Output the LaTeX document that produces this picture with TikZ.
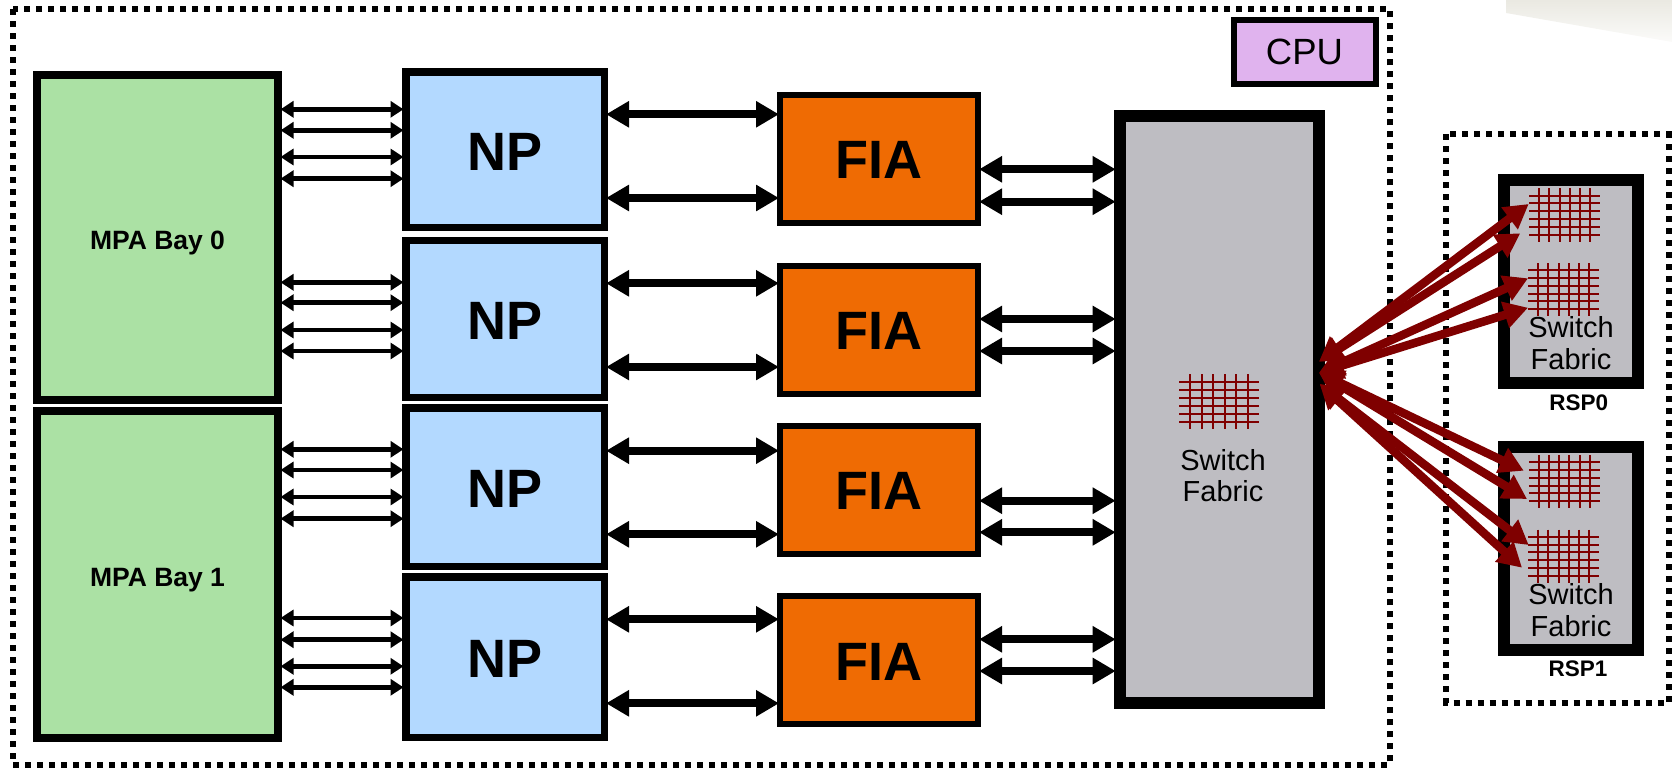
\documentclass[tikz,border=0pt]{standalone}
\usepackage{fontspec}
\setmainfont{Liberation Sans}
\usetikzlibrary{arrows.meta}
\definecolor{mpagreen}{HTML}{ABE1A4}
\definecolor{npblue}{HTML}{B3D9FF}
\definecolor{fiaorange}{HTML}{EF6B03}
\definecolor{fabricgray}{HTML}{BEBDC2}
\definecolor{cpupurple}{HTML}{E0B3EE}
\definecolor{linkred}{HTML}{7F0000}
\definecolor{smudge}{HTML}{D6D4C6}
\newcommand{\pxfont}[1]{\fontsize{#1}{#1}\selectfont}
\tikzset{
  block/.style={draw=black, inner sep=0pt, align=center},
  mpa/.style={block, fill=mpagreen, line width=8pt, minimum width=241pt, text height=29pt, font=\pxfont{26.5}\bfseries},
  np/.style={block, fill=npblue, line width=7.5pt, minimum width=198.5pt, text height=41.5pt, font=\pxfont{54}\bfseries},
  fia/.style={block, fill=fiaorange, line width=6pt, minimum width=198pt, minimum height=128pt, text height=40pt, font=\pxfont{54}\bfseries},
  fabric/.style={block, fill=fabricgray, line width=12pt},
  rsp/.style={fabric, minimum width=134.6pt, minimum height=202.6pt},
  zone/.style={draw=black, line width=6pt, dash pattern=on 6pt off 6pt},
  caption/.style={inner sep=0pt, font=\pxfont{22.5}\bfseries},
  fabrictext/.style={inner sep=0pt, font=\pxfont{29}},
  smalllink/.style={line width=4.5pt, shorten <=-1.5pt, shorten >=-1.5pt, {Triangle[length=13pt,width=16pt]}-{Triangle[length=13pt,width=16pt]}},
  biglink/.style={line width=8pt, shorten <=-2pt, shorten >=-2pt, {Triangle[length=23pt,width=25pt]}-{Triangle[length=23pt,width=25pt]}},
  redlink/.style={linkred, line width=8.5pt, {Triangle[length=24pt,width=26pt]}-{Triangle[length=24pt,width=26pt]}},
  pics/swgrid/.style={code={
    \foreach \gx in {-2.5,-1.5,-0.5,0.5,1.5,2.5}
      \draw[linkred, line width=2pt] (\gx*10.2,-26.7) -- (\gx*10.2,26.7);
    \foreach \gy in {-2.5,-1.5,-0.5,0.5,1.5,2.5}
      \draw[linkred, line width=2pt] (-35.5,\gy*7.8) -- (35.5,\gy*7.8);
  }}
}
\begin{document}
\begin{tikzpicture}[x=1pt, y=-1pt]
\useasboundingbox (0,0) rectangle (1672,768);

% Corner smudge
\begin{scope}
\clip (1506,0) -- (1672,0) -- (1672,42) -- (1506,13) -- cycle;
\shade[top color=smudge, bottom color=white, rotate around={-10:(1506,13)}] (1450,-40) rectangle (1730,13);
\end{scope}

% Dotted zones
\draw[zone] (12.7,9.3) rectangle (1390,764.7);
\draw[zone] (1446,134.3) rectangle (1668.7,702.7);

% CPU tag
\node[block, fill=cpupurple, line width=6pt, minimum width=142pt, minimum height=64pt, font=\pxfont{36.5}] (cpu) at (1304.5,52.3) {CPU};

% MPA bays
\node[mpa, minimum height=325pt] (mpa0) at (157.5,237.5) {MPA Bay 0};
\node[mpa, minimum height=327pt] (mpa1) at (157.5,574.5) {MPA Bay 1};

% Network processors
\node[np, minimum height=155.5pt] (np1) at (505,149.5) {NP};
\node[np, minimum height=156.8pt] (np2) at (505,318.9) {NP};
\node[np, minimum height=158.5pt] (np3) at (505,487) {NP};
\node[np, minimum height=160.5pt] (np4) at (505,657) {NP};

% Fabric interfaces
\node[fia] (fia1) at (879,158.8) {FIA};
\node[fia] (fia2) at (879,329.7) {FIA};
\node[fia] (fia3) at (879,489.7) {FIA};
\node[fia] (fia4) at (879,660.3) {FIA};

% Midplane fabric and route switch processors
\node[fabric, minimum width=199pt, minimum height=587pt] (fabric) at (1219.2,409.5) {};
\node[fabrictext, align=center] (fabriclabel) at (1223,475.5) {Switch\\[1.7pt]Fabric};
\node[rsp] (rsp0) at (1571,281.6) {};
\node[rsp] (rsp1) at (1571,548.5) {};
\node[fabrictext, align=center] (rsp0label) at (1571,343.4) {Switch\\[3pt]Fabric};
\node[fabrictext, align=center] (rsp1label) at (1571,610) {Switch\\[3pt]Fabric};
\node[caption] (rsp0name) at (1578.7,403) {RSP0};
\node[caption] (rsp1name) at (1578,669) {RSP1};

% Crossbar grids
\pic[xscale=1.127, yscale=1.03] at (1219,401.8) {swgrid};
\pic at (1564.7,215) {swgrid};
\pic at (1563.7,289.7) {swgrid};
\pic at (1564.3,481.7) {swgrid};
\pic at (1563.7,556.3) {swgrid};

% MPA to NP links
\draw[smalllink] (mpa0.east |- 0,109.3) -- (np1.west |- 0,109.3);
\draw[smalllink] (mpa0.east |- 0,130.3) -- (np1.west |- 0,130.3);
\draw[smalllink] (mpa0.east |- 0,157) -- (np1.west |- 0,157);
\draw[smalllink] (mpa0.east |- 0,178.7) -- (np1.west |- 0,178.7);
\draw[smalllink] (mpa0.east |- 0,282.3) -- (np2.west |- 0,282.3);
\draw[smalllink] (mpa0.east |- 0,302.7) -- (np2.west |- 0,302.7);
\draw[smalllink] (mpa0.east |- 0,330) -- (np2.west |- 0,330);
\draw[smalllink] (mpa0.east |- 0,351) -- (np2.west |- 0,351);
\draw[smalllink] (mpa1.east |- 0,449.3) -- (np3.west |- 0,449.3);
\draw[smalllink] (mpa1.east |- 0,470) -- (np3.west |- 0,470);
\draw[smalllink] (mpa1.east |- 0,497) -- (np3.west |- 0,497);
\draw[smalllink] (mpa1.east |- 0,518.7) -- (np3.west |- 0,518.7);
\draw[smalllink] (mpa1.east |- 0,618) -- (np4.west |- 0,618);
\draw[smalllink] (mpa1.east |- 0,639.7) -- (np4.west |- 0,639.7);
\draw[smalllink] (mpa1.east |- 0,666.3) -- (np4.west |- 0,666.3);
\draw[smalllink] (mpa1.east |- 0,687.3) -- (np4.west |- 0,687.3);

% NP to FIA links
\draw[biglink] (np1.east |- 0,114.3) -- (fia1.west |- 0,114.3);
\draw[biglink] (np1.east |- 0,198) -- (fia1.west |- 0,198);
\draw[biglink] (np2.east |- 0,283.3) -- (fia2.west |- 0,283.3);
\draw[biglink] (np2.east |- 0,367) -- (fia2.west |- 0,367);
\draw[biglink] (np3.east |- 0,450.7) -- (fia3.west |- 0,450.7);
\draw[biglink] (np3.east |- 0,534.3) -- (fia3.west |- 0,534.3);
\draw[biglink] (np4.east |- 0,619.3) -- (fia4.west |- 0,619.3);
\draw[biglink] (np4.east |- 0,703.3) -- (fia4.west |- 0,703.3);

% FIA to fabric links
\draw[biglink] (fia1.east |- 0,169.3) -- (fabric.west |- 0,169.3);
\draw[biglink] (fia1.east |- 0,201.7) -- (fabric.west |- 0,201.7);
\draw[biglink] (fia2.east |- 0,319) -- (fabric.west |- 0,319);
\draw[biglink] (fia2.east |- 0,351) -- (fabric.west |- 0,351);
\draw[biglink] (fia3.east |- 0,500.7) -- (fabric.west |- 0,500.7);
\draw[biglink] (fia3.east |- 0,532.3) -- (fabric.west |- 0,532.3);
\draw[biglink] (fia4.east |- 0,639.3) -- (fabric.west |- 0,639.3);
\draw[biglink] (fia4.east |- 0,671) -- (fabric.west |- 0,671);

% Ends of the fabric links
\coordinate (hubtop) at (1319,361.7);
\coordinate (hubmid) at (1319,372.7);
\coordinate (hubbot) at (1319.7,384);
\coordinate (rsp0a) at (1528.7,204);
\coordinate (rsp0b) at (1520.3,233.3);
\coordinate (rsp0c) at (1528,278.3);
\coordinate (rsp0d) at (1528,307.7);
\coordinate (rsp1a) at (1523.7,470.7);
\coordinate (rsp1b) at (1527,499);
\coordinate (rsp1c) at (1528.7,545);
\coordinate (rsp1d) at (1522,567.7);

% Fabric links to the RSPs
\draw[redlink] (hubtop) -- (rsp0a);
\draw[redlink] (hubtop) -- (rsp0b);
\draw[redlink] (hubmid) -- (rsp0c);
\draw[redlink] (hubmid) -- (rsp0d);
\draw[redlink] (hubmid) -- (rsp1a);
\draw[redlink] (hubmid) -- (rsp1b);
\draw[redlink] (hubbot) -- (rsp1c);
\draw[redlink] (hubbot) -- (rsp1d);
\end{tikzpicture}
\end{document}
